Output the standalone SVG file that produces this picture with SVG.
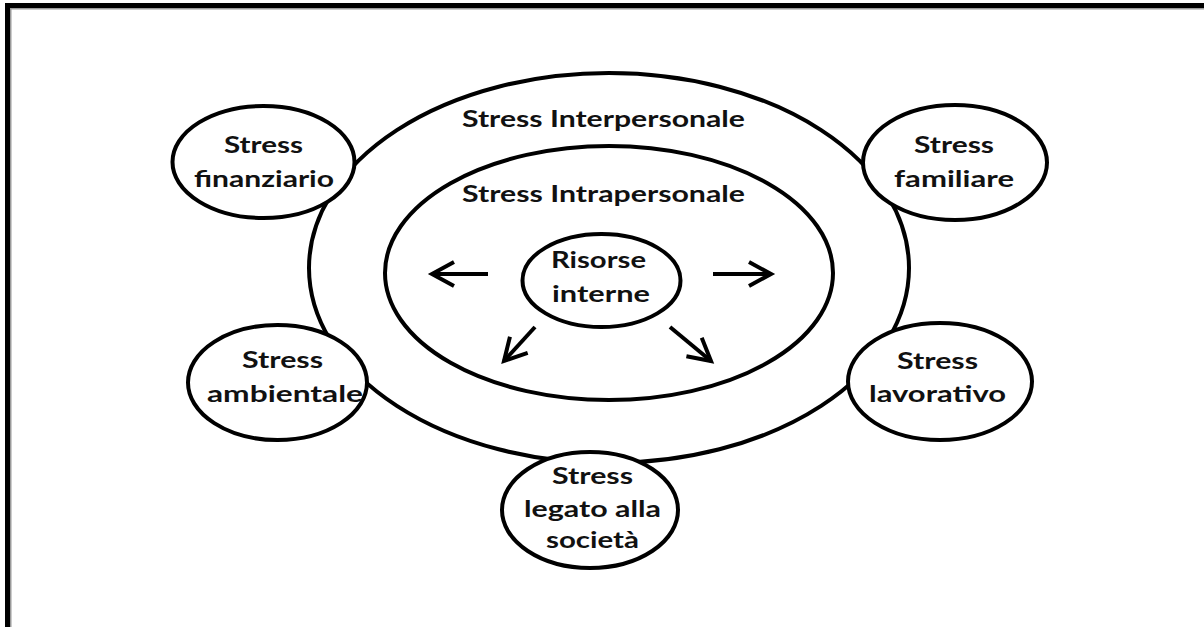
<svg xmlns="http://www.w3.org/2000/svg" width="1204" height="627" viewBox="0 0 1204 627">
  <style>
    .ring { fill: none; stroke: #000; stroke-width: 4; }
    .node { fill: #fff; stroke: #000; stroke-width: 4; }
    .lbl { font-family: Lato, "Open Sans", "Liberation Sans", sans-serif; font-weight: 700; font-size: 22px; fill: #111; text-anchor: middle; }
    .arrow { fill: none; stroke: #000; stroke-width: 4; stroke-linecap: butt; }
  </style>
  <defs>
    <marker id="head" markerUnits="userSpaceOnUse" markerWidth="40" markerHeight="40" refX="0" refY="0" viewBox="-30 -20 40 40" orient="auto" overflow="visible">
      <path d="M -22 -12 L 0 0 L -22 12" fill="none" stroke="#000" stroke-width="4" stroke-linejoin="miter"/>
    </marker>
  </defs>

  <rect width="1204" height="627" fill="#fff"/>

  <!-- page frame: top and left edges -->
  <g id="frame">
    <rect x="5" y="8" width="1199" height="1.5" fill="#9a9a9a"/>
    <rect x="10" y="8" width="1.5" height="619" fill="#9a9a9a"/>
    <rect x="5" y="3" width="1199" height="5" fill="#000"/>
    <rect x="5" y="3" width="5" height="624" fill="#000"/>
  </g>

  <g id="interpersonale">
    <ellipse class="ring" cx="609" cy="268" rx="300" ry="195"/>
    <text class="lbl" x="603.5" y="127" textLength="283" lengthAdjust="spacingAndGlyphs">Stress Interpersonale</text>
  </g>

  <g id="intrapersonale">
    <ellipse class="ring" cx="609" cy="273" rx="224" ry="127"/>
    <text class="lbl" x="603.5" y="202" textLength="283" lengthAdjust="spacingAndGlyphs">Stress Intrapersonale</text>
  </g>

  <g id="risorse-interne">
    <ellipse class="node" cx="601.5" cy="280.5" rx="79" ry="46.5"/>
    <text class="lbl" x="598.5" y="268" textLength="95" lengthAdjust="spacingAndGlyphs">Risorse</text>
    <text class="lbl" x="601" y="302" textLength="98" lengthAdjust="spacingAndGlyphs">interne</text>
  </g>

  <g id="connectors">
    <line class="arrow" x1="488" y1="274" x2="432" y2="274" marker-end="url(#head)"/>
    <line class="arrow" x1="713" y1="274" x2="771" y2="274" marker-end="url(#head)"/>
    <line class="arrow" x1="535" y1="327" x2="504" y2="361" marker-end="url(#head)"/>
    <line class="arrow" x1="670" y1="327" x2="711" y2="361" marker-end="url(#head)"/>
  </g>

  <g id="finanziario">
    <ellipse class="node" cx="263.5" cy="162" rx="91" ry="56"/>
    <text class="lbl" x="263.5" y="153" textLength="79" lengthAdjust="spacingAndGlyphs">Stress</text>
    <text class="lbl" x="264" y="187" textLength="140" lengthAdjust="spacingAndGlyphs">finanziario</text>
  </g>

  <g id="familiare">
    <ellipse class="node" cx="955" cy="162.5" rx="92" ry="57.5"/>
    <text class="lbl" x="954" y="153" textLength="80" lengthAdjust="spacingAndGlyphs">Stress</text>
    <text class="lbl" x="954" y="187" textLength="120" lengthAdjust="spacingAndGlyphs">familiare</text>
  </g>

  <g id="ambientale">
    <ellipse class="node" cx="277.5" cy="382.5" rx="89.5" ry="57.5"/>
    <text class="lbl" x="282.5" y="368" textLength="81" lengthAdjust="spacingAndGlyphs">Stress</text>
    <text class="lbl" x="285" y="402" textLength="156" lengthAdjust="spacingAndGlyphs">ambientale</text>
  </g>

  <g id="lavorativo">
    <ellipse class="node" cx="940" cy="381.5" rx="92" ry="58.5"/>
    <text class="lbl" x="937.5" y="369" textLength="81" lengthAdjust="spacingAndGlyphs">Stress</text>
    <text class="lbl" x="937.5" y="402" textLength="137" lengthAdjust="spacingAndGlyphs">lavorativo</text>
  </g>

  <g id="societa">
    <ellipse class="node" cx="590" cy="510" rx="88" ry="58"/>
    <text class="lbl" x="592.5" y="484" textLength="81" lengthAdjust="spacingAndGlyphs">Stress</text>
    <text class="lbl" x="592.5" y="517" textLength="137" lengthAdjust="spacingAndGlyphs">legato alla</text>
    <text class="lbl" x="592.5" y="548" textLength="93" lengthAdjust="spacingAndGlyphs">società</text>
  </g>
</svg>
